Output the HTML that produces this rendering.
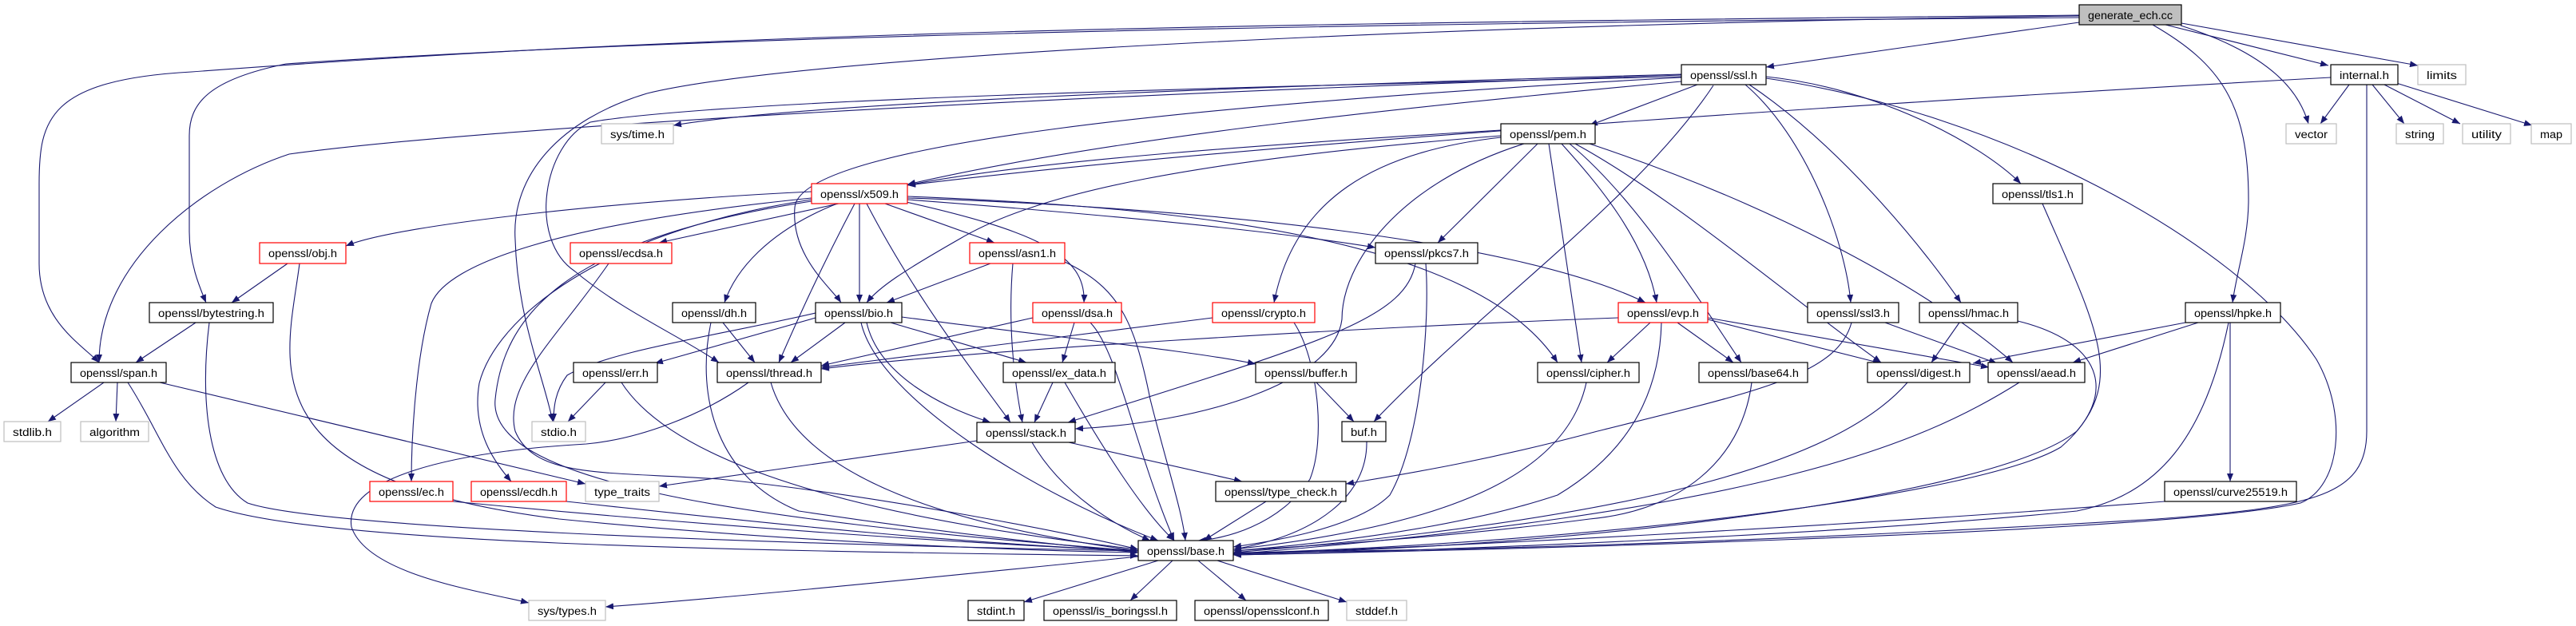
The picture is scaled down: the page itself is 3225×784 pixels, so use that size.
<!DOCTYPE html>
<html><head><meta charset="utf-8"><style>
html,body{margin:0;padding:0;background:#fff;}
svg{display:block;}
text{font-family:"Liberation Sans",sans-serif;font-size:13.5px;fill:#000;}
.e{fill:none;stroke:#191970;stroke-width:1.1;marker-end:url(#ah);}
.b{fill:#fff;stroke:#000;stroke-width:1.2;}
.r{fill:#fff;stroke:#ff0000;stroke-width:1.2;}
.g{fill:#fff;stroke:#bfbfbf;stroke-width:1.2;}
</style></head><body>
<svg width="3225" height="784" viewBox="0 0 3225 784" xmlns="http://www.w3.org/2000/svg">
<defs><marker id="ah" markerUnits="userSpaceOnUse" markerWidth="11" markerHeight="8" refX="10" refY="4" orient="auto"><path d="M0,0 L10,4 L0,8 z" fill="#191970"/></marker></defs>
<g>
<path class="e" d="M2603 28 L2211 84"/>
<path class="e" d="M2711 31 L2915 82"/>
<path class="e" d="M2731 29 L3027 82"/>
<path class="e" d="M2730 32 C2850 70, 2880 120, 2890 155"/>
<path class="e" d="M2695 31 C2780 80, 2815 130, 2815 250 C2815 300, 2800 340, 2795 379"/>
<path class="e" d="M2941 106 L2905 155"/>
<path class="e" d="M2970 106 L3010 155"/>
<path class="e" d="M2985 106 L3080 155"/>
<path class="e" d="M3000 104 L3170 157"/>
<path class="e" d="M2963 106 L2963 540 C2963 620, 2900 635, 2700 650 C2200 680, 1800 690, 1544 692"/>
<path class="e" d="M2918 97 C2500 120, 1600 175, 1136 232"/>
<path class="e" d="M2125 106 L1990 157"/>
<path class="e" d="M2105 102 C1800 130, 1400 170, 1136 231"/>
<path class="e" d="M2105 97 C1500 130, 1000 180, 995 260 C990 320, 1040 360, 1053 379"/>
<path class="e" d="M2105 96 C1500 110, 900 125, 739 153 C680 180, 660 300, 720 340 C780 390, 850 420, 900 454"/>
<path class="e" d="M2105 94 C1300 120, 600 160, 362 193 C250 230, 124 330, 124 454"/>
<path class="e" d="M2105 93 C1500 110, 1000 130, 843 157"/>
<path class="e" d="M2145 107 C2050 250, 1850 390, 1720 528"/>
<path class="e" d="M2185 106 C2260 170, 2310 300, 2317 379"/>
<path class="e" d="M2211 96 C2350 110, 2480 180, 2530 230"/>
<path class="e" d="M2190 106 C2300 180, 2400 300, 2455 379"/>
<path class="e" d="M2211 98 C2500 140, 2800 300, 2900 450 C2940 520, 2930 610, 2880 630 C2700 670, 1800 690, 1544 695"/>
<path class="e" d="M2603 20 C1800 30, 1000 70, 810 117 C700 150, 640 220, 645 300 C648 400, 680 470, 692 528"/>
<path class="e" d="M2603 19 C1500 30, 900 40, 240 90 C60 100, 49 150, 49 230 L49 330 C49 400, 100 430, 124 454"/>
<path class="e" d="M2603 22 C1500 30, 800 50, 358 80 C260 100, 237 130, 237 170 L237 290 C237 330, 250 360, 258 379"/>
<path class="e" d="M1879 163 C1600 180, 1300 200, 1136 232"/>
<path class="e" d="M1879 170 C1500 200, 1300 240, 1200 300 C1130 340, 1100 360, 1085 379"/>
<path class="e" d="M1879 172 C1720 190, 1620 250, 1595 379"/>
<path class="e" d="M1925 180 L1800 304"/>
<path class="e" d="M1939 180 L1980 454"/>
<path class="e" d="M1955 180 C2000 230, 2060 300, 2074 379"/>
<path class="e" d="M1965 180 C2050 250, 2130 380, 2180 454"/>
<path class="e" d="M1972 180 C2100 250, 2250 380, 2355 454"/>
<path class="e" d="M1908 180 C1750 230, 1680 330, 1680 400 C1670 480, 1500 530, 1346 537"/>
<path class="e" d="M1990 180 C2200 250, 2400 350, 2520 454"/>
<path class="e" d="M1016 240 C800 250, 500 280, 433 308"/>
<path class="e" d="M1050 255 L825 304"/>
<path class="e" d="M1108 255 L1245 304"/>
<path class="e" d="M1048 255 C960 290, 920 340, 907 379"/>
<path class="e" d="M1076 255 L1076 379"/>
<path class="e" d="M1130 252 C1300 290, 1360 320, 1357 379"/>
<path class="e" d="M1136 250 C1400 270, 1600 290, 1722 310"/>
<path class="e" d="M1136 248 C1500 260, 1900 300, 2060 379"/>
<path class="e" d="M1136 246 C1500 260, 1850 300, 1950 454"/>
<path class="e" d="M1070 255 C1020 350, 990 420, 975 454"/>
<path class="e" d="M1085 255 C1150 380, 1230 480, 1265 529"/>
<path class="e" d="M1016 248 C700 280, 560 330, 540 380 C520 450, 515 550, 515 603"/>
<path class="e" d="M1016 250 C750 290, 620 400, 600 480 C590 540, 620 580, 640 603"/>
<path class="e" d="M1016 252 C700 300, 630 400, 620 500 C610 600, 900 650, 1425 690"/>
<path class="e" d="M360 330 L290 379"/>
<path class="e" d="M375 330 C360 450, 300 600, 700 650 C1000 680, 1300 690, 1425 692"/>
<path class="e" d="M245 404 L170 454"/>
<path class="e" d="M262 404 C250 500, 260 600, 310 630 C400 660, 900 680, 1425 690"/>
<path class="e" d="M130 479 L60 528"/>
<path class="e" d="M147 479 L145 528"/>
<path class="e" d="M200 479 L733 606"/>
<path class="e" d="M160 479 C200 540, 215 600, 270 635 C400 680, 900 690, 1425 696"/>
<path class="e" d="M762 330 C700 420, 630 480, 645 540 C670 600, 760 590, 900 600 C1100 620, 1350 670, 1425 688"/>
<path class="e" d="M567 628 C900 660, 1200 680, 1425 690"/>
<path class="e" d="M709 628 C1000 660, 1200 680, 1425 690"/>
<path class="e" d="M905 404 L945 454"/>
<path class="e" d="M890 404 C870 500, 900 600, 1000 640 C1200 670, 1350 685, 1425 692"/>
<path class="e" d="M1058 404 L990 454"/>
<path class="e" d="M1021 398 L820 455"/>
<path class="e" d="M1021 392 C900 420, 760 440, 710 470 C695 490, 693 510, 693 528"/>
<path class="e" d="M1115 404 L1285 454"/>
<path class="e" d="M1085 404 C1100 470, 1180 510, 1240 529"/>
<path class="e" d="M1129 397 C1300 420, 1500 440, 1572 456"/>
<path class="e" d="M1078 404 C1100 500, 1300 620, 1450 677"/>
<path class="e" d="M937 479 C880 520, 800 550, 734 556 C560 566, 430 600, 440 660 C460 720, 600 740, 662 755"/>
<path class="e" d="M1240 330 L1110 379"/>
<path class="e" d="M1268 330 C1262 400, 1268 470, 1280 529"/>
<path class="e" d="M1333 328 C1400 360, 1420 400, 1440 500 C1460 580, 1480 640, 1484 677"/>
<path class="e" d="M1345 404 L1330 454"/>
<path class="e" d="M1365 404 C1400 440, 1420 560, 1470 677"/>
<path class="e" d="M1293 398 L1028 458"/>
<path class="e" d="M1518 398 L1028 460"/>
<path class="e" d="M1620 404 C1650 450, 1660 550, 1640 600 C1600 660, 1530 675, 1500 677"/>
<path class="e" d="M1318 479 L1295 529"/>
<path class="e" d="M1333 479 C1380 560, 1430 640, 1470 677"/>
<path class="e" d="M965 479 C1000 600, 1200 660, 1425 690"/>
<path class="e" d="M758 479 L711 528"/>
<path class="e" d="M778 479 C830 560, 1000 640, 1425 688"/>
<path class="e" d="M1223 552 L825 609"/>
<path class="e" d="M1292 554 C1330 620, 1400 660, 1440 677"/>
<path class="e" d="M1338 554 L1555 603"/>
<path class="e" d="M1585 628 L1507 677"/>
<path class="e" d="M1648 479 L1695 528"/>
<path class="e" d="M1711 553 C1712 620, 1650 670, 1544 688"/>
<path class="e" d="M2066 404 L2012 454"/>
<path class="e" d="M2100 404 L2170 454"/>
<path class="e" d="M2138 400 L2355 455"/>
<path class="e" d="M2138 398 L2490 460"/>
<path class="e" d="M2026 398 C1700 410, 1200 440, 1028 462"/>
<path class="e" d="M2080 404 C2078 480, 2050 560, 1950 620 C1800 670, 1600 685, 1544 690"/>
<path class="e" d="M1785 330 C1790 400, 1780 550, 1740 620 C1700 660, 1600 677, 1544 685"/>
<path class="e" d="M1772 330 C1760 400, 1650 430, 1337 529"/>
<path class="e" d="M1986 479 C1960 600, 1800 660, 1544 688"/>
<path class="e" d="M2193 479 C2180 580, 2100 640, 1990 650 C1800 675, 1600 686, 1544 690"/>
<path class="e" d="M2388 479 C2300 580, 2050 650, 1544 692"/>
<path class="e" d="M2528 479 C2400 560, 2200 640, 1544 694"/>
<path class="e" d="M2318 404 C2300 470, 2200 490, 2000 540 C1850 580, 1750 595, 1685 606"/>
<path class="e" d="M2360 404 L2500 455"/>
<path class="e" d="M2453 404 L2418 454"/>
<path class="e" d="M2526 402 C2640 430, 2650 500, 2580 560 C2480 620, 2000 680, 1544 693"/>
<path class="e" d="M2557 255 C2620 400, 2660 470, 2600 540 C2500 620, 2000 685, 1544 694"/>
<path class="e" d="M2736 404 L2470 455"/>
<path class="e" d="M2752 404 L2595 454"/>
<path class="e" d="M2792 404 L2792 603"/>
<path class="e" d="M2790 404 C2760 550, 2700 620, 2600 640 C2300 670, 1800 690, 1544 695"/>
<path class="e" d="M2710 628 C2300 660, 1800 685, 1544 694"/>
<path class="e" d="M1450 702 L1282 754"/>
<path class="e" d="M1468 702 L1415 752"/>
<path class="e" d="M1500 702 L1560 752"/>
<path class="e" d="M1524 702 L1686 754"/>
<path class="e" d="M1425 697 C1200 720, 900 750, 758 760"/>
</g>
<g>
<rect x="2603" y="6" width="128" height="25" fill="#bfbfbf" stroke="#000" stroke-width="1.2"/><text x="2614" y="24" textLength="106" lengthAdjust="spacingAndGlyphs">generate_ech.cc</text>
<rect class="b" x="2105" y="81" width="106" height="25"/><text x="2116" y="99" textLength="84" lengthAdjust="spacingAndGlyphs">openssl/ssl.h</text>
<rect class="b" x="2918" y="81" width="84" height="25"/><text x="2929" y="99" textLength="62" lengthAdjust="spacingAndGlyphs">internal.h</text>
<rect class="g" x="3027" y="81" width="60" height="25"/><text x="3038" y="99" textLength="38" lengthAdjust="spacingAndGlyphs">limits</text>
<rect class="g" x="2862" y="155" width="63" height="25"/><text x="2873" y="173" textLength="41" lengthAdjust="spacingAndGlyphs">vector</text>
<rect class="g" x="3000" y="155" width="59" height="25"/><text x="3011" y="173" textLength="37" lengthAdjust="spacingAndGlyphs">string</text>
<rect class="g" x="3083" y="155" width="60" height="25"/><text x="3094" y="173" textLength="38" lengthAdjust="spacingAndGlyphs">utility</text>
<rect class="g" x="3169" y="155" width="50" height="25"/><text x="3180" y="173" textLength="28" lengthAdjust="spacingAndGlyphs">map</text>
<rect class="b" x="1879" y="155" width="118" height="25"/><text x="1890" y="173" textLength="96" lengthAdjust="spacingAndGlyphs">openssl/pem.h</text>
<rect class="g" x="753" y="155" width="90" height="25"/><text x="764" y="173" textLength="68" lengthAdjust="spacingAndGlyphs">sys/time.h</text>
<rect class="b" x="2495" y="230" width="112" height="25"/><text x="2506" y="248" textLength="90" lengthAdjust="spacingAndGlyphs">openssl/tls1.h</text>
<rect class="r" x="1016" y="230" width="120" height="25"/><text x="1027" y="248" textLength="98" lengthAdjust="spacingAndGlyphs">openssl/x509.h</text>
<rect class="r" x="325" y="304" width="108" height="26"/><text x="336" y="322" textLength="86" lengthAdjust="spacingAndGlyphs">openssl/obj.h</text>
<rect class="r" x="714" y="304" width="127" height="26"/><text x="725" y="322" textLength="105" lengthAdjust="spacingAndGlyphs">openssl/ecdsa.h</text>
<rect class="r" x="1214" y="304" width="119" height="26"/><text x="1225" y="322" textLength="97" lengthAdjust="spacingAndGlyphs">openssl/asn1.h</text>
<rect class="b" x="1722" y="304" width="128" height="26"/><text x="1733" y="322" textLength="106" lengthAdjust="spacingAndGlyphs">openssl/pkcs7.h</text>
<rect class="b" x="187" y="379" width="155" height="25"/><text x="198" y="397" textLength="133" lengthAdjust="spacingAndGlyphs">openssl/bytestring.h</text>
<rect class="b" x="842" y="379" width="104" height="25"/><text x="853" y="397" textLength="82" lengthAdjust="spacingAndGlyphs">openssl/dh.h</text>
<rect class="b" x="1021" y="379" width="108" height="25"/><text x="1032" y="397" textLength="86" lengthAdjust="spacingAndGlyphs">openssl/bio.h</text>
<rect class="r" x="1293" y="379" width="111" height="25"/><text x="1304" y="397" textLength="89" lengthAdjust="spacingAndGlyphs">openssl/dsa.h</text>
<rect class="r" x="1518" y="379" width="128" height="25"/><text x="1529" y="397" textLength="106" lengthAdjust="spacingAndGlyphs">openssl/crypto.h</text>
<rect class="r" x="2026" y="379" width="112" height="25"/><text x="2037" y="397" textLength="90" lengthAdjust="spacingAndGlyphs">openssl/evp.h</text>
<rect class="b" x="2263" y="379" width="114" height="25"/><text x="2274" y="397" textLength="92" lengthAdjust="spacingAndGlyphs">openssl/ssl3.h</text>
<rect class="b" x="2403" y="379" width="123" height="25"/><text x="2414" y="397" textLength="101" lengthAdjust="spacingAndGlyphs">openssl/hmac.h</text>
<rect class="b" x="2736" y="379" width="119" height="25"/><text x="2747" y="397" textLength="97" lengthAdjust="spacingAndGlyphs">openssl/hpke.h</text>
<rect class="b" x="89" y="454" width="119" height="25"/><text x="100" y="472" textLength="97" lengthAdjust="spacingAndGlyphs">openssl/span.h</text>
<rect class="b" x="718" y="454" width="105" height="25"/><text x="729" y="472" textLength="83" lengthAdjust="spacingAndGlyphs">openssl/err.h</text>
<rect class="b" x="898" y="454" width="130" height="25"/><text x="909" y="472" textLength="108" lengthAdjust="spacingAndGlyphs">openssl/thread.h</text>
<rect class="b" x="1256" y="454" width="140" height="25"/><text x="1267" y="472" textLength="118" lengthAdjust="spacingAndGlyphs">openssl/ex_data.h</text>
<rect class="b" x="1572" y="454" width="126" height="25"/><text x="1583" y="472" textLength="104" lengthAdjust="spacingAndGlyphs">openssl/buffer.h</text>
<rect class="b" x="1925" y="454" width="127" height="25"/><text x="1936" y="472" textLength="105" lengthAdjust="spacingAndGlyphs">openssl/cipher.h</text>
<rect class="b" x="2127" y="454" width="136" height="25"/><text x="2138" y="472" textLength="114" lengthAdjust="spacingAndGlyphs">openssl/base64.h</text>
<rect class="b" x="2338" y="454" width="128" height="25"/><text x="2349" y="472" textLength="106" lengthAdjust="spacingAndGlyphs">openssl/digest.h</text>
<rect class="b" x="2489" y="454" width="121" height="25"/><text x="2500" y="472" textLength="99" lengthAdjust="spacingAndGlyphs">openssl/aead.h</text>
<rect class="g" x="5" y="528" width="71" height="25"/><text x="16" y="546" textLength="49" lengthAdjust="spacingAndGlyphs">stdlib.h</text>
<rect class="g" x="101" y="528" width="85" height="25"/><text x="112" y="546" textLength="63" lengthAdjust="spacingAndGlyphs">algorithm</text>
<rect class="g" x="666" y="528" width="67" height="25"/><text x="677" y="546" textLength="45" lengthAdjust="spacingAndGlyphs">stdio.h</text>
<rect class="b" x="1223" y="529" width="123" height="25"/><text x="1234" y="547" textLength="101" lengthAdjust="spacingAndGlyphs">openssl/stack.h</text>
<rect class="b" x="1680" y="528" width="55" height="25"/><text x="1691" y="546" textLength="33" lengthAdjust="spacingAndGlyphs">buf.h</text>
<rect class="r" x="463" y="603" width="104" height="25"/><text x="474" y="621" textLength="82" lengthAdjust="spacingAndGlyphs">openssl/ec.h</text>
<rect class="r" x="590" y="603" width="119" height="25"/><text x="601" y="621" textLength="97" lengthAdjust="spacingAndGlyphs">openssl/ecdh.h</text>
<rect class="g" x="733" y="603" width="92" height="25"/><text x="744" y="621" textLength="70" lengthAdjust="spacingAndGlyphs">type_traits</text>
<rect class="b" x="1522" y="603" width="163" height="25"/><text x="1533" y="621" textLength="141" lengthAdjust="spacingAndGlyphs">openssl/type_check.h</text>
<rect class="b" x="2710" y="603" width="165" height="25"/><text x="2721" y="621" textLength="143" lengthAdjust="spacingAndGlyphs">openssl/curve25519.h</text>
<rect class="b" x="1425" y="677" width="119" height="25"/><text x="1436" y="695" textLength="97" lengthAdjust="spacingAndGlyphs">openssl/base.h</text>
<rect class="g" x="662" y="752" width="96" height="25"/><text x="673" y="770" textLength="74" lengthAdjust="spacingAndGlyphs">sys/types.h</text>
<rect class="b" x="1212" y="752" width="70" height="25"/><text x="1223" y="770" textLength="48" lengthAdjust="spacingAndGlyphs">stdint.h</text>
<rect class="b" x="1307" y="752" width="166" height="25"/><text x="1318" y="770" textLength="144" lengthAdjust="spacingAndGlyphs">openssl/is_boringssl.h</text>
<rect class="b" x="1496" y="752" width="167" height="25"/><text x="1507" y="770" textLength="145" lengthAdjust="spacingAndGlyphs">openssl/opensslconf.h</text>
<rect class="g" x="1686" y="752" width="75" height="25"/><text x="1697" y="770" textLength="53" lengthAdjust="spacingAndGlyphs">stddef.h</text>
</g>
</svg>
</body></html>
